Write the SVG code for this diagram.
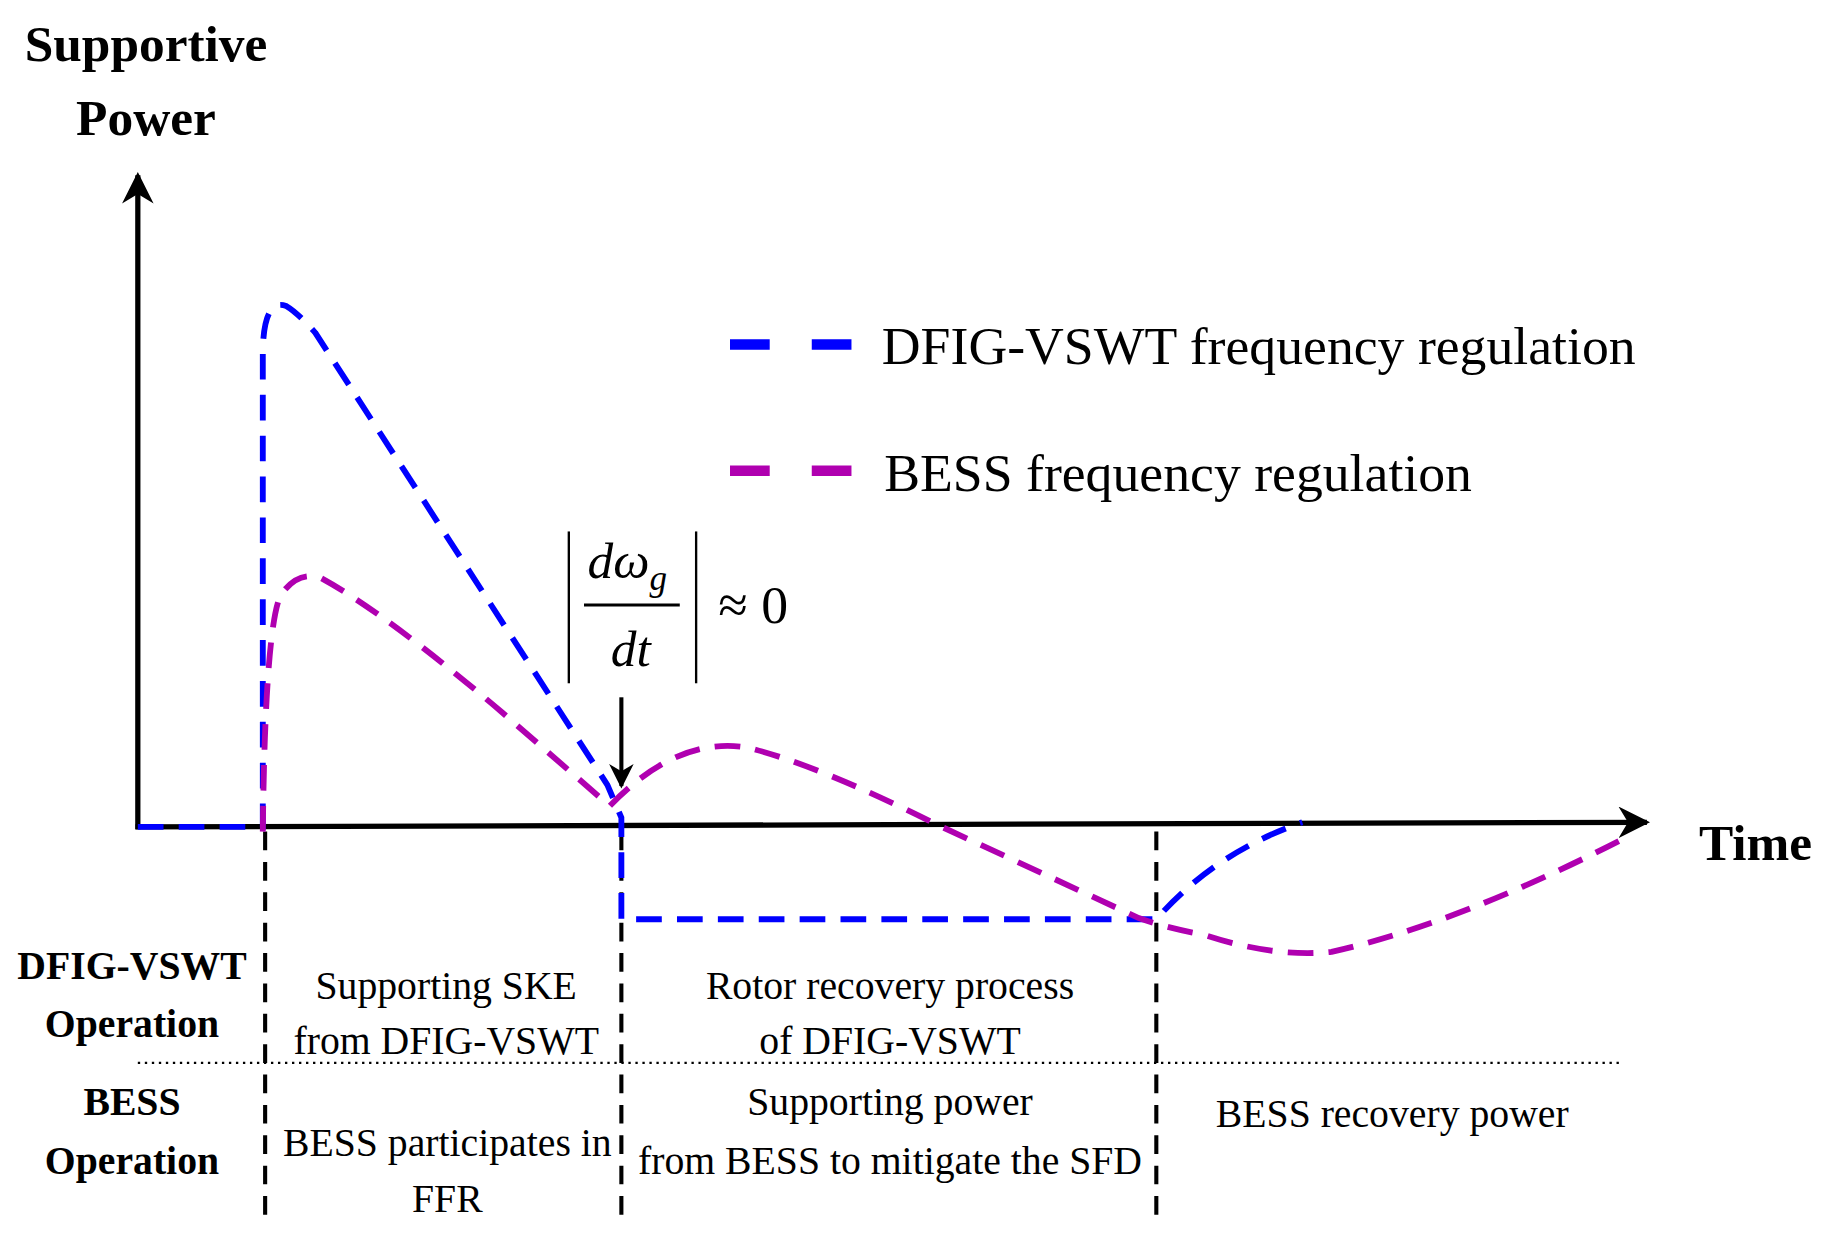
<svg xmlns="http://www.w3.org/2000/svg" width="1831" height="1236" viewBox="0 0 1831 1236">
<defs>
<style>
text{font-family:"Liberation Serif","Times New Roman",serif;fill:#000}
.b{font-weight:bold}
.lbl{font-size:34px;text-anchor:middle}
.ax{stroke:#000;stroke-width:4.5;fill:none}
.vd{stroke:#000;stroke-width:3.5;stroke-dasharray:16 10;fill:none}
.blue{stroke:#0000ff;stroke-width:5;stroke-dasharray:22 13;fill:none}
.mag{stroke:#b000b0;stroke-width:5;stroke-dasharray:22 13;fill:none}
</style>
<marker id="ar" viewBox="0 0 10 10" refX="9" refY="5" markerWidth="6" markerHeight="6" orient="auto" markerUnits="strokeWidth"><path d="M0,0 L10,5 L0,10 L3,5 z" fill="#000"/></marker>
</defs>
<rect width="1831" height="1236" fill="#fff"/>
<g transform="scale(1.168)">
<g id="axes">
<line class="ax" x1="118" y1="710" x2="118" y2="150" marker-end="url(#ar)"/>
<line class="ax" x1="116" y1="708" x2="1410" y2="704" marker-end="url(#ar)"/>
<text class="b" x="125" y="52" font-size="44" text-anchor="middle">Supportive</text>
<text class="b" x="125" y="116" font-size="44" text-anchor="middle">Power</text>
<text class="b" x="1503" y="736" font-size="44" text-anchor="middle">Time</text>
</g>
<g id="connectors">
<line class="vd" x1="227" y1="712" x2="227" y2="1040"/>
<line class="vd" x1="532" y1="712" x2="532" y2="1040"/>
<line class="vd" x1="990" y1="712" x2="990" y2="1040"/>
<line x1="118" y1="910" x2="1390" y2="910" stroke="#000" stroke-width="2" stroke-dasharray="2 4"/>
<line x1="532" y1="597" x2="532" y2="673" stroke="#000" stroke-width="3.5" marker-end="url(#ar)"/>
</g>
<g id="curves">
<path class="blue" d="M118,708 L225,708 L225,300 Q226,255 245,262 Q255,268 270,285 L520,672 L532,700 L532,787 L990,787 Q1040,730 1115,704"/>
<path class="mag" d="M225,712 Q227,540 240,510 Q255,488 275,495 Q330,525 430,610 L522,690 Q580,630 640,640 Q700,655 800,705 L975,786 Q1000,795 1030,800 Q1090,820 1140,815 Q1250,790 1390,718"/>
</g>
<g id="legend">
<line x1="625" y1="295" x2="730" y2="295" stroke="#0000ff" stroke-width="9" stroke-dasharray="34 36"/>
<text x="755" y="312" font-size="46">DFIG-VSWT frequency regulation</text>
<line x1="625" y1="403" x2="730" y2="403" stroke="#b000b0" stroke-width="9" stroke-dasharray="34 36"/>
<text x="757" y="420" font-size="46">BESS frequency regulation</text>
</g>
<g id="formula">
<line x1="487" y1="455" x2="487" y2="585" stroke="#000" stroke-width="2"/>
<line x1="596" y1="455" x2="596" y2="585" stroke="#000" stroke-width="2"/>
<line x1="500" y1="518" x2="582" y2="518" stroke="#000" stroke-width="2.5"/>
<text x="503" y="495" font-size="44" font-style="italic">dω<tspan font-size="30" dy="10">g</tspan></text>
<text x="540" y="570" font-size="44" font-style="italic" text-anchor="middle">dt</text>
<text x="615" y="533" font-size="46">≈ 0</text>
</g>
<g id="labels">
<text class="lbl b" x="113" y="838">DFIG-VSWT</text>
<text class="lbl b" x="113" y="888">Operation</text>
<text class="lbl b" x="113" y="955">BESS</text>
<text class="lbl b" x="113" y="1005">Operation</text>
<text class="lbl" x="382" y="855">Supporting SKE</text>
<text class="lbl" x="382" y="902">from DFIG-VSWT</text>
<text class="lbl" x="762" y="855">Rotor recovery process</text>
<text class="lbl" x="762" y="902">of DFIG-VSWT</text>
<text class="lbl" x="762" y="955">Supporting power</text>
<text class="lbl" x="762" y="1005">from BESS to mitigate the SFD</text>
<text class="lbl" x="383" y="990">BESS participates in</text>
<text class="lbl" x="383" y="1038">FFR</text>
<text class="lbl" x="1192" y="965">BESS recovery power</text>
</g>
</g>
</svg>
